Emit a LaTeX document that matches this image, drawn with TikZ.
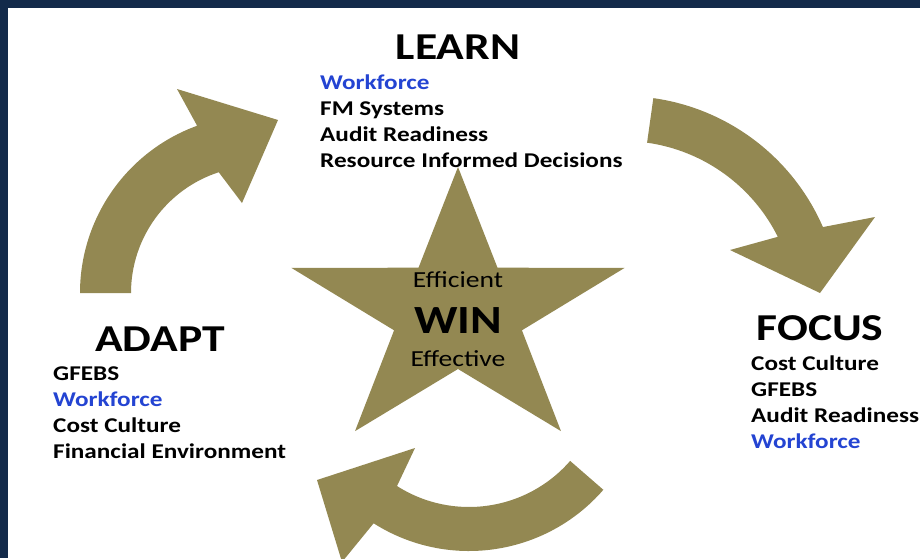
\documentclass[tikz,border=0pt]{standalone}
\usepackage{fontspec}
\setmainfont{Carlito}[FakeStretch=1.2]
\definecolor{winnavy}{RGB}{19,42,74}
\definecolor{winkhaki}{RGB}{147,136,82}
\definecolor{winblue}{RGB}{36,68,210}
\usepackage{tikz}

\begin{document}
\begin{tikzpicture}[x=1pt, y=-1pt,
    title/.style={font=\fontsize{38}{38}\selectfont\bfseries, anchor=base, inner sep=0pt},
    items/.style={font=\fontsize{21}{26}\selectfont\bfseries, align=left, anchor=base west, inner sep=0pt},
    starword/.style={font=\fontsize{23}{23}\selectfont, anchor=base, inner sep=0pt},
    cyclearrow/.style={fill=winkhaki}]
    \useasboundingbox (0,0) rectangle (920,558);
    \clip (0,0) rectangle (920,558);
    % Frame
    \fill[winnavy] (0,0) rectangle (920,558);
    \fill[white] (8,8) rectangle (920,558);

    % Cycle arrows
    \fill[cyclearrow] ([shift={(258,293)}]180:178) arc[start angle=180, end angle=250, radius=178]
        -- (177,89) -- (278,120) -- (242,203)
        -- ([shift={(258,293)}]252:127) arc[start angle=252, end angle=180, radius=127] -- cycle;
    \fill[cyclearrow] ([shift={(623,314)}]278:218) arc[start angle=278, end angle=336.5, radius=218]
        -- (875,217) -- (820,293) -- (730,250)
        -- ([shift={(623,314)}]333.5:173) arc[start angle=333.5, end angle=278, radius=173] -- cycle;
    \fill[cyclearrow] ([shift={(469,373)}]41:178) arc[start angle=41, end angle=122.4, radius=178]
        -- (342,562) -- (317,480) -- (415,448)
        -- ([shift={(469,373)}]122.5:134) arc[start angle=122.5, end angle=41, radius=134] -- cycle;

    % Central star
    \fill[winkhaki, shift={(458,313)}, xscale=1.2] (-90:146) -- (-54:56) -- (-18:146) -- (18:56)
        -- (54:146) -- (90:56) -- (126:146) -- (162:56) -- (198:146) -- (234:56) -- cycle;
    \node[starword] (efficient) at (458,287) {Efficient};
    \node[font=\fontsize{40}{40}\selectfont\bfseries, anchor=base, inner sep=0pt] (win) at (458,333) {WIN};
    \node[starword] (effective) at (458,366) {Effective};

    % Phases (lists anchored at their last line)
    \node[title] (learn) at (458,59) {LEARN};
    \node[items] (learnlist) at (320,167) {\textcolor{winblue}{Workforce}\\FM Systems\\Audit Readiness\\Resource Informed Decisions};
    \node[title] (focus) at (820,340) {FOCUS};
    \node[items] (focuslist) at (751,448) {Cost Culture\\GFEBS\\Audit Readiness\\\textcolor{winblue}{Workforce}};
    \node[title] (adapt) at (160,351) {ADAPT};
    \node[items] (adaptlist) at (53,458) {GFEBS\\\textcolor{winblue}{Workforce}\\Cost Culture\\Financial Environment};
\end{tikzpicture}
\end{document}
